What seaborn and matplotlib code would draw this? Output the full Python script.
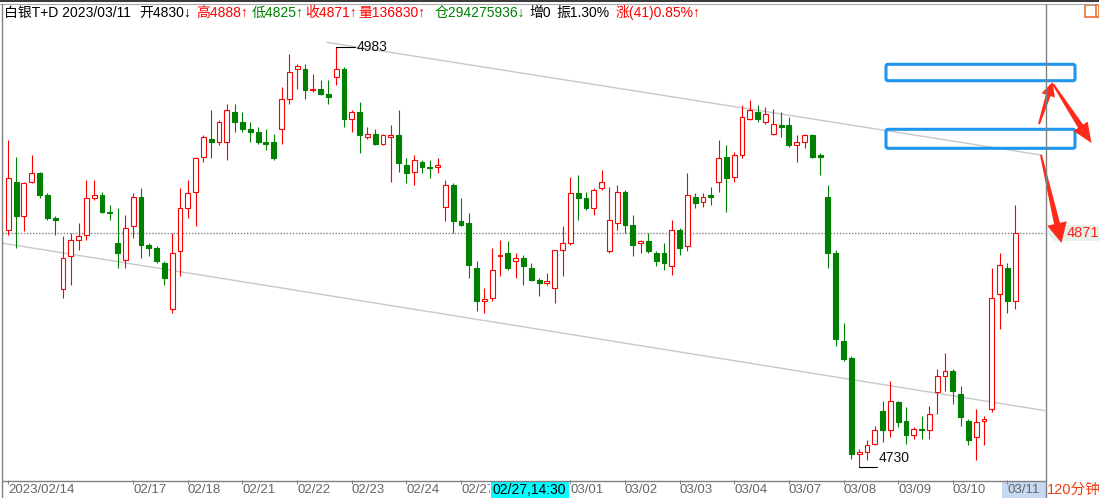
import numpy as np
import pandas as pd
import matplotlib
matplotlib.use("Agg")
import matplotlib.pyplot as plt
import seaborn as sns
from matplotlib.patches import Rectangle, Polygon, FancyBboxPatch

# 白银T+D, 120 minute bars (price units)
opens = [4873, 4902, 4881, 4902, 4907, 4894, 4880, 4837, 4857, 4867,
         4870, 4892, 4894, 4884, 4865, 4855, 4875, 4893, 4864, 4862,
         4853, 4825, 4860, 4886, 4896, 4917, 4928, 4926, 4926, 4944,
         4938, 4934, 4932, 4926, 4926, 4934, 4952, 4970, 4970, 4957,
         4958, 4955, 4965, 4970, 4940, 4944, 4929, 4931, 4925, 4929,
         4930, 4912, 4908, 4914, 4911, 4911, 4887, 4900, 4878, 4877,
         4850, 4830, 4832, 4857, 4859, 4854, 4856, 4850, 4843, 4841,
         4838, 4861, 4865, 4895, 4892, 4886, 4898, 4860, 4877, 4896,
         4876, 4865, 4866, 4859, 4859, 4851, 4873, 4863, 4893, 4890,
         4894, 4902, 4917, 4905, 4918, 4940, 4944, 4938, 4931, 4936,
         4936, 4924, 4926, 4930, 4918, 4893, 4859, 4806, 4796, 4738,
         4739, 4744, 4764, 4752, 4769, 4758, 4749, 4753, 4752, 4775,
         4785, 4788, 4774, 4758, 4748, 4758, 4765, 4834, 4850, 4830]
highs = [4927, 4917, 4902, 4918, 4908, 4895, 4881, 4869, 4871, 4877,
         4903, 4903, 4896, 4888, 4886, 4882, 4895, 4898, 4865, 4863,
         4854, 4871, 4898, 4903, 4917, 4930, 4945, 4939, 4949, 4949,
         4944, 4938, 4935, 4934, 4931, 4959, 4979, 4973, 4973, 4967,
         4963, 4963, 4983, 4971, 4945, 4950, 4935, 4934, 4931, 4936,
         4945, 4916, 4918, 4915, 4915, 4916, 4903, 4901, 4892, 4883,
         4854, 4838, 4862, 4867, 4866, 4859, 4858, 4853, 4844, 4847,
         4861, 4875, 4905, 4906, 4896, 4898, 4909, 4899, 4900, 4897,
         4882, 4867, 4871, 4860, 4865, 4879, 4874, 4907, 4895, 4895,
         4899, 4927, 4924, 4920, 4948, 4951, 4948, 4947, 4946, 4944,
         4941, 4930, 4931, 4931, 4919, 4900, 4861, 4817, 4797, 4741,
         4746, 4755, 4770, 4782, 4770, 4766, 4754, 4761, 4767, 4789,
         4799, 4789, 4779, 4759, 4765, 4761, 4850, 4859, 4853, 4888]
lows = [4870, 4862, 4872, 4901, 4892, 4879, 4870, 4832, 4840, 4861,
        4867, 4891, 4883, 4879, 4850, 4850, 4868, 4856, 4857, 4853,
        4840, 4823, 4845, 4880, 4875, 4914, 4916, 4924, 4915, 4932,
        4932, 4926, 4925, 4921, 4915, 4925, 4949, 4958, 4952, 4956,
        4954, 4949, 4960, 4935, 4932, 4919, 4928, 4924, 4924, 4902,
        4908, 4901, 4900, 4907, 4904, 4907, 4878, 4871, 4875, 4844,
        4824, 4823, 4830, 4845, 4849, 4844, 4840, 4842, 4833, 4840,
        4829, 4845, 4864, 4879, 4885, 4882, 4897, 4859, 4873, 4871,
        4857, 4859, 4859, 4851, 4849, 4846, 4858, 4860, 4886, 4887,
        4888, 4896, 4884, 4902, 4916, 4939, 4938, 4937, 4930, 4929,
        4923, 4914, 4922, 4916, 4906, 4850, 4803, 4794, 4735, 4730,
        4734, 4743, 4745, 4748, 4754, 4744, 4747, 4747, 4747, 4762,
        4776, 4768, 4755, 4743, 4734, 4743, 4763, 4813, 4823, 4825]
closes = [4904, 4881, 4901, 4907, 4894, 4880, 4879, 4856, 4867, 4869,
          4892, 4894, 4884, 4883, 4859, 4874, 4893, 4864, 4862, 4854,
          4844, 4859, 4886, 4895, 4916, 4929, 4926, 4938, 4945, 4938,
          4934, 4932, 4926, 4925, 4916, 4952, 4968, 4972, 4957, 4958,
          4955, 4953, 4970, 4940, 4944, 4930, 4931, 4925, 4930, 4930,
          4913, 4907, 4915, 4911, 4910, 4912, 4900, 4878, 4876, 4852,
          4830, 4831, 4849, 4858, 4850, 4856, 4851, 4843, 4841, 4842,
          4861, 4865, 4895, 4892, 4886, 4897, 4902, 4879, 4896, 4876,
          4864, 4866, 4860, 4854, 4853, 4873, 4862, 4894, 4889, 4893,
          4893, 4916, 4904, 4918, 4941, 4945, 4940, 4943, 4937, 4935,
          4924, 4926, 4930, 4917, 4917, 4859, 4807, 4795, 4738, 4739,
          4743, 4752, 4752, 4770, 4757, 4749, 4753, 4752, 4762, 4785,
          4788, 4776, 4760, 4746, 4757, 4759, 4832, 4852, 4830, 4871]

# bottom axis date labels (bar index where each label sits)
tick_idx = [0, 16, 23, 30, 37, 44, 51, 58, 72, 79, 86, 93, 100, 107, 114, 121, 128]
tick_labels = ["2023/02/14", "02/17", "02/18", "02/21", "02/22", "02/23", "02/24",
               "02/27", "03/01", "03/02", "03/03", "03/04", "03/07",
               "03/08", "03/09", "03/10", "03/11"]

# hand drawn channel lines (bar index, price)
upper_x = [40.8, 132.4]
upper_y = [4986, 4918]
lower_x = [-0.85, 132.8]
lower_y = [4865, 4764]

volume = 136830
open_int = 294275936
change = 41
change_pct = 0.85
amplitude = 1.30

RED = "#ff0000"
GREEN = "#008000"

df = pd.DataFrame({"open": opens, "high": highs, "low": lows, "close": closes})
df["x"] = np.arange(len(df))
df["up"] = df["close"] >= df["open"]

sns.set_theme(style="white")
plt.rcParams["font.family"] = ["Liberation Sans", "Noto Sans CJK SC", "DejaVu Sans"]

W, H = 1099, 498
fig = plt.figure(figsize=(W / 100, H / 100), dpi=100, facecolor="white")

# layer below the chart (highlight behind the last date label)
under = fig.add_axes([0, 0, 1, 1], zorder=0)
under.set_xlim(0, W)
under.set_ylim(H, 0)
under.axis("off")
under.add_patch(Rectangle((1002, 482), 43.5, 16, color="#c6d9f0", lw=0))

# main price axes
ax = fig.add_axes([2 / W, 18 / H, 1043 / W, 476 / H], zorder=1)
ax.set_facecolor("none")
for s in ax.spines.values():
    s.set_visible(False)

cols = np.where(df["up"], RED, GREEN)
ax.vlines(df["x"], df["low"], df["high"], colors=cols, lw=0.8, zorder=2)
bottom = np.minimum(df["open"], df["close"])
height = np.maximum((df["close"] - df["open"]).abs(), 1.0)
ax.bar(df["x"], height, bottom=bottom, width=0.62,
       color=np.where(df["up"], "white", GREEN), edgecolor=cols,
       linewidth=0.8, zorder=3)

sns.lineplot(x=upper_x, y=upper_y, ax=ax, color="#c8c8c8", lw=1, zorder=1)
sns.lineplot(x=lower_x, y=lower_y, ax=ax, color="#c8c8c8", lw=1, zorder=1)

last = df["close"].iloc[-1]
ax.axhline(last, color="#808080", lw=1.0, ls=(0, (1, 1.2)), zorder=1)

# highest / lowest markers
hi = int(df["high"].idxmax())
lo = int(df["low"].idxmin())
ax.plot([hi, hi + 2.4], [df["high"][hi]] * 2, color="black", lw=0.8, zorder=4)
ax.text(hi + 2.6, df["high"][hi], str(df["high"][hi]), ha="left", va="center",
        fontsize=10, color="#111111")
ax.plot([lo, lo + 2.3], [df["low"][lo]] * 2, color="black", lw=0.8, zorder=4)
ax.text(lo + 2.5, df["low"][lo] + 1.2, str(df["low"][lo]), ha="left", va="bottom",
        fontsize=10, color="#111111")

ax.set_xlim(-0.807, 132.81)
ax.set_ylim(4722.16, 5009.09)
ax.set_yticks([])
ax.set_xticks(tick_idx, tick_labels)
ax.tick_params(axis="x", bottom=True, length=3, width=0.7, color="#808080",
               labelsize=9.5, labelcolor="#666666", pad=0)
for lbl in ax.get_xticklabels():
    lbl.set_ha("left")
    if lbl.get_text() == "02/27":
        # partly hidden behind the cursor date box
        clip = Rectangle((0, 0), 490 / W, 1, transform=fig.transFigure)
        lbl.set_clip_path(clip)

# overlay in pixel coordinates: frame, header, annotations
ov = fig.add_axes([0, 0, 1, 1], zorder=2)
ov.set_xlim(0, W)
ov.set_ylim(H, 0)
ov.axis("off")
ov.set_facecolor("none")

ov.plot([0, W], [0.8, 0.8], color="#3c3c3c", lw=1.5)
ov.plot([0, W], [3.6, 3.6], color="#a8a8a8", lw=0.8)
ov.plot([1.75, 1.75], [3.6, H], color="#808080", lw=1)
ov.plot([1045.5, 1045.5], [3.6, H], color="#808080", lw=1)
ov.plot([1.75, 1045.5], [480.5, 480.5], color="#808080", lw=1)

o, h, l, c = opens[-1], highs[-1], lows[-1], closes[-1]
header = [
    ("白银T+D 2023/03/11", 3.5, "black"),
    (f"开{o}↓", 139.6, "black"),
    (f"高{h}↑", 195.7, RED),
    (f"低{l}↑", 251.5, GREEN),
    (f"收{c}↑", 305.5, RED),
    (f"量{volume}↑", 358.8, RED),
    (f"仓{open_int}↓", 434.9, GREEN),
    ("增0", 529.6, "black"),
    (f"振{amplitude:.2f}%", 556, "black"),
    (f"涨({change}){change_pct:.2f}%↑", 615.9, RED),
]
for txt, xp, col in header:
    ov.text(xp, 12.5, txt, ha="left", va="center", fontsize=10, color=col)

# orange icon top right
ov.add_patch(Rectangle((1085, 4.5), 14, 12, fill=False, ec="#e8641e", lw=1.1))
ov.plot([1096, 1096], [4.5, 16.5], color="#e8641e", lw=1.1)

# cursor date box
ov.add_patch(Rectangle((491, 481.5), 77.5, 16.5, color="#00ffff", lw=0))
ov.text(529.7, 489.5, "02/27,14:30", ha="center", va="center", fontsize=10, color="black")

ov.text(1047, 489.5, "120分钟", ha="left", va="center", fontsize=10.5, color="#f03c0c")

# last price tag on the right
ov.add_patch(Polygon([(1047, 233), (1054, 225), (1099, 225), (1099, 241), (1054, 241)],
                     closed=True, color="#e8f1e8", lw=0))
ov.text(1067, 233, f"{c}", ha="left", va="center", fontsize=10.5, color="#ff2020")

# blue boxes
for y0, y1 in [(64.3, 80.7), (129.3, 148.3)]:
    ov.add_patch(FancyBboxPatch((886, y0), 189, y1 - y0,
                                boxstyle="round,pad=0,rounding_size=2",
                                fill=False, ec="#1e96f0", lw=2.2))


def arrow(tail, tip, w0, w1, hw, hl, color="#ff2a1a"):
    t = np.array(tail, float)
    p = np.array(tip, float)
    d = p - t
    u = d / np.hypot(*d)
    n = np.array([-u[1], u[0]])
    neck = p - u * hl
    pts = [t + n * w0 / 2, neck + n * w1 / 2, neck + n * hw / 2, p,
           neck - n * hw / 2, neck - n * w1 / 2, t - n * w0 / 2]
    ov.add_patch(Polygon(pts, closed=True, color=color, lw=0))


arrow((1041, 155), (1061.5, 243), 2, 6, 20, 20)
arrow((1039, 124), (1052.5, 82), 2, 5, 14, 14)
arrow((1053, 84), (1091.5, 143), 2, 6, 17, 20)

fig.savefig("out.png", dpi=100, facecolor="white")
